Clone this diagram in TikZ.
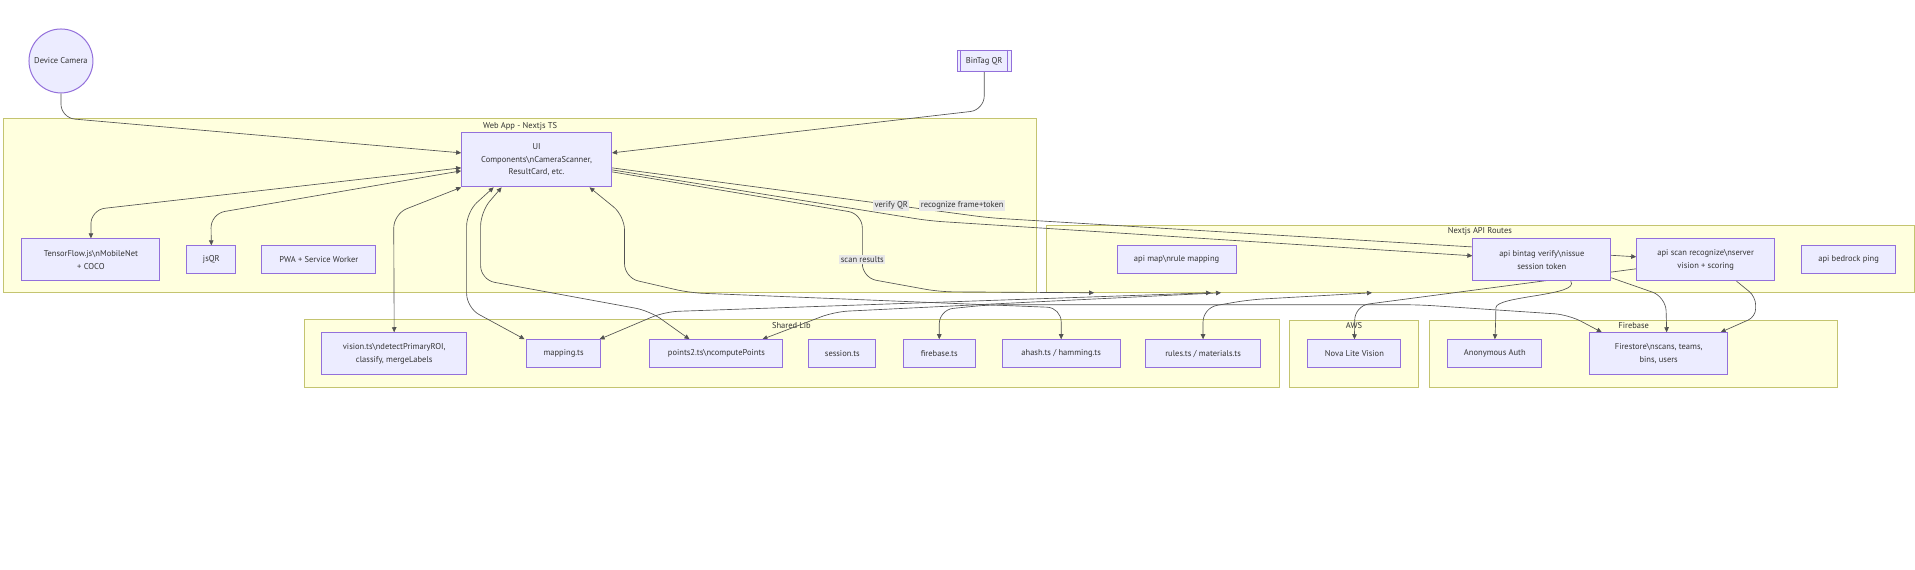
\documentclass[tikz,border=0pt]{standalone}
\usepackage{fontspec}
\setmainfont{PT Sans}
\usetikzlibrary{arrows.meta}
\definecolor{boxfill}{HTML}{ECECFF}
\definecolor{boxline}{HTML}{9370DB}
\definecolor{clusterfill}{HTML}{FFFFDE}
\definecolor{clusterline}{HTML}{C4C470}
\definecolor{ink}{HTML}{333333}
\definecolor{labelfill}{HTML}{E8E8E8}
\newcommand{\slashn}{\textbackslash n}
\pgfdeclarelayer{back}
\pgfdeclarelayer{edges}
\pgfsetlayers{back,edges,main}

\begin{document}
\begin{tikzpicture}[x=1pt, y=-1pt,
  font=\fontsize{8.5}{12.5}\selectfont, text=ink,
  box/.style={draw=boxline, fill=boxfill, line width=1pt, align=center, inner sep=0pt},
  cluster/.style={draw=clusterline, fill=clusterfill, line width=1pt},
  ctitle/.style={inner sep=0pt},
  conn/.style={draw=ink!85, line width=0.65pt, rounded corners=14pt},
  onearrow/.style={-{Triangle[length=5pt,width=4.5pt]}},
  twoarrow/.style={{Triangle[length=5pt,width=4.5pt]}-{Triangle[length=5pt,width=4.5pt]}},
  elabel/.style={fill=labelfill, inner sep=1.5pt}]

\begin{pgfonlayer}{back}
\fill [white] (0,0) rectangle (1915,570);
\draw [cluster] (4,119) rectangle (1037,293);
\node [ctitle] (webT) at (520.5,126) {Web App - Nextjs TS};
\draw [cluster] (1047,226) rectangle (1916,293);
\node [ctitle] (apiT) at (1481,232) {Nextjs API Routes};
\draw [cluster] (304.5,320) rectangle (1280,388);
\node [ctitle] (libT) at (792,326) {Shared Lib};
\draw [cluster] (1290.5,321) rectangle (1420,388);
\node [ctitle] (awsT) at (1355,326) {AWS};
\draw [cluster] (1430.5,321) rectangle (1839,388);
\node [ctitle] (fbT) at (1635,326) {Firebase};
\end{pgfonlayer}
\useasboundingbox (0,0) rectangle (1915,570);

\node [box, circle, minimum size=64pt] (cam) at (61,61) {Device Camera};
\node [box, minimum width=54pt, minimum height=21pt] (qr) at (985,61) {BinTag QR};
\draw [boxline, line width=1pt] ([xshift=4pt]qr.north west) -- ([xshift=4pt]qr.south west);
\draw [boxline, line width=1pt] ([xshift=-4pt]qr.north east) -- ([xshift=-4pt]qr.south east);

\node [box, minimum width=150pt, minimum height=54pt] (ui) at (537,160) {UI\\Components\slashn CameraScanner,\\ResultCard, etc.};
\node [box, minimum width=138pt, minimum height=42pt] (tf) at (91,260) {TensorFlow.js\slashn MobileNet\\+ COCO};
\node [box, minimum width=49pt, minimum height=28pt] (jsqr) at (211.5,260) {jsQR};
\node [box, minimum width=114pt, minimum height=28pt] (pwa) at (319,260) {PWA + Service Worker};

\node [box, minimum width=119pt, minimum height=28pt] (apimap) at (1177.5,260) {api map\slashn rule mapping};
\node [box, minimum width=138pt, minimum height=42pt] (verify) at (1543,260) {api bintag verify\slashn issue\\session token};
\node [box, minimum width=138pt, minimum height=42pt] (recog) at (1707,260) {api scan recognize\slashn server\\vision + scoring};
\node [box, minimum width=94pt, minimum height=28pt] (bedrock) at (1850,260) {api bedrock ping};

\node [box, minimum width=145pt, minimum height=42pt] (vision) at (394.5,354) {vision.ts\slashn detectPrimaryROI,\\classify, mergeLabels};
\node [box, minimum width=74pt, minimum height=28pt] (mapping) at (564,354) {mapping.ts};
\node [box, minimum width=133pt, minimum height=28pt] (points2) at (717,354) {points2.ts\slashn computePoints};
\node [box, minimum width=67pt, minimum height=28pt] (session) at (843,354) {session.ts};
\node [box, minimum width=72pt, minimum height=28pt] (fbts) at (940,354) {firebase.ts};
\node [box, minimum width=118pt, minimum height=28pt] (ahash) at (1062,354) {ahash.ts / hamming.ts};
\node [box, minimum width=115pt, minimum height=28pt] (rules) at (1204,354) {rules.ts / materials.ts};

\node [box, minimum width=93pt, minimum height=28pt] (nova) at (1355.5,354) {Nova Lite Vision};
\node [box, minimum width=94pt, minimum height=28pt] (auth) at (1496,354) {Anonymous Auth};
\node [box, minimum width=138pt, minimum height=42pt] (firestore) at (1660,354) {Firestore\slashn scans, teams,\\bins, users};

\coordinate (apiA) at (1095,293);
\coordinate (apiB) at (1212,293);
\coordinate (apiC) at (1222,293);
\coordinate (apiD) at (1373,293);

\begin{pgfonlayer}{edges}
\draw [conn, onearrow] (cam.south) -- (61,118) -- ([yshift=7pt]ui.west);
\draw [conn, onearrow] (qr.south) -- (985,110) -- ([yshift=7pt]ui.east);
\draw [conn, twoarrow] ([yshift=-8pt]ui.west) -- (91,210) -- (tf.north);
\draw [conn, twoarrow] ([yshift=-11pt]ui.west) -- (211,214) -- (jsqr.north);
\draw [conn, twoarrow] (ui.south west) -- (394,214) -- (vision.north);
\draw [conn, twoarrow] ([xshift=-43pt]ui.south) -- (467,212) -- (467,308) -- ([xshift=-39pt]mapping.north);
\draw [conn, twoarrow] ([xshift=-35pt]ui.south) -- (481,212) -- (481,280) -- (650,311) -- ([xshift=-27pt]points2.north);
\draw [conn, twoarrow] ([xshift=53pt]ui.south) -- (625,216) -- (625,278) -- (690,293) -- (1062,308) -- (ahash.north);
\draw [conn, onearrow] ([yshift=-8pt]ui.east) -- (990,218) -- ([yshift=3pt]recog.west);
\draw [conn, onearrow] ([yshift=-10pt]ui.east) -- (930,221) -- ([yshift=4pt]verify.west);
\draw [conn, onearrow] ([yshift=-12pt]ui.east) -- (863,214) -- (863,278) -- (940,292) -- (apiA);
\draw [conn, twoarrow] ([xshift=36pt]mapping.north) -- (665,312) -- (apiB);
\draw [conn, twoarrow] ([xshift=46pt]points2.north) -- (835,312) -- (apiC);
\draw [conn, twoarrow] (rules.north) -- (1204,308) -- (1250,300) -- (apiD);
\draw [conn, twoarrow] (fbts.north) -- (940,310) -- (990,305) -- (1420,305) -- (1570,315) -- ([xshift=-57pt]firestore.north);
\draw [conn, onearrow] ([yshift=-9pt]recog.west) -- (1356,306) -- (nova.north);
\draw [conn, onearrow] ([xshift=29pt]verify.south) .. controls (1582,296) and (1497,296) .. (1497,322) -- (auth.north);
\draw [conn, onearrow] ([yshift=-18pt]verify.east) -- (1667,297) -- ([xshift=8pt]firestore.north);
\draw [conn, onearrow, rounded corners=8pt] ([xshift=31pt]recog.south) -- (1757,297) -- (1757,317) -- ([xshift=62pt]firestore.north);
\end{pgfonlayer}

\node [elabel] (lblVerify) at (892,206) {verify QR};
\node [elabel] (lblRecog) at (963,206) {recognize frame+token};
\node [elabel] (lblScan) at (863,260) {scan results};
\end{tikzpicture}
\end{document}
